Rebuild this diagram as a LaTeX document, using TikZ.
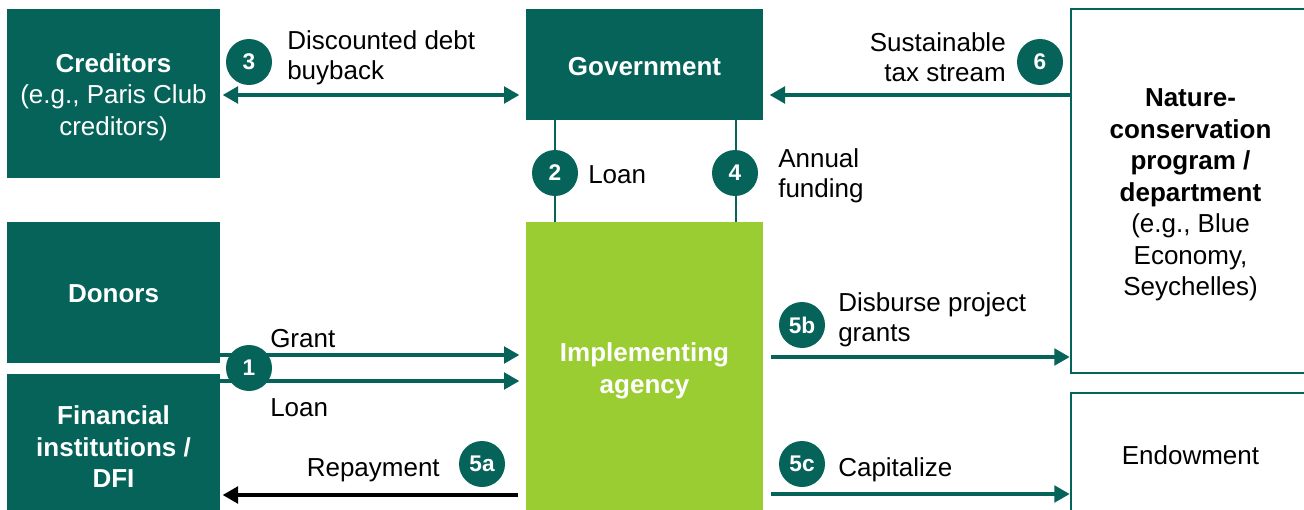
\documentclass[tikz,border=0pt]{standalone}
\usepackage{fontspec}
\setmainfont{Liberation Sans}
\usetikzlibrary{arrows.meta}
\definecolor{teal}{HTML}{05635A}
\definecolor{lime}{HTML}{9ACD32}
\tikzset{
  box/.style={rectangle,fill=teal,inner sep=0pt,outer sep=0pt,text=white,align=center,font=\fontsize{19.5}{23.6}\selectfont},
  obox/.style={rectangle,draw=teal,line width=1.2pt,fill=white,inner sep=0pt,outer sep=0pt,text=black,align=center,font=\fontsize{19.5}{23.6}\selectfont},
  badge/.style={circle,fill=teal,text=white,minimum size=34.5pt,inner sep=0pt,font=\fontsize{17}{18}\selectfont\bfseries},
  lbl/.style={inner sep=0pt,align=left,font=\fontsize{19.5}{22.8}\selectfont},
  arr/.style={draw=teal,line width=2.4pt,-{Triangle[length=11.5pt,width=12.5pt]}},
  barr/.style={draw=black,line width=2.4pt,-{Triangle[length=11.5pt,width=12.5pt]}},
  darr/.style={draw=teal,line width=2.4pt,{Triangle[length=11.5pt,width=12.5pt]}-{Triangle[length=11.5pt,width=12.5pt]}},
  vline/.style={draw=teal,line width=2pt}
}
\begin{document}
\begin{tikzpicture}[x=0.75pt,y=-0.75pt]
\useasboundingbox (0,0) rectangle (1304,510);
\clip (0,0) rectangle (1304,510);
% boxes
\node[box,minimum width=159.75pt,minimum height=126.75pt] (cred) at (113.5,93.5) {};
\node[box,align=center] (credt) at (113.5,97) {\textbf{Creditors}\\(e.g., Paris Club\\creditors)};
\node[box,minimum width=177.75pt,minimum height=83.25pt] (gov) at (644.5,64.5) {};
\node[box] (govt) at (644.5,66.5) {\textbf{Government}};
\node[obox,minimum width=179.25pt,minimum height=273pt] (nat) at (1190.5,191) {};
\node[box,text=black,fill=none] (natt) at (1190.5,195) {\textbf{Nature-}\\\textbf{conservation}\\\textbf{program /}\\\textbf{department}\\(e.g., Blue\\Economy,\\Seychelles)};
\node[obox,minimum width=179.25pt,minimum height=91.5pt] (endw) at (1190.5,454) {};
\node[box,text=black,fill=none] (endwt) at (1190.5,455.5) {Endowment};
\node[box,minimum width=159.75pt,minimum height=105.75pt] (don) at (113.5,292.5) {};
\node[box] (dont) at (113.5,294) {\textbf{Donors}};
\node[box,minimum width=159.75pt,minimum height=105.75pt] (fin) at (113.5,444.5) {};
\node[box] (fint) at (113.5,447) {\textbf{Financial}\\\textbf{institutions /}\\\textbf{DFI}};
\node[box,fill=lime,minimum width=177.75pt,minimum height=219.75pt] (agy) at (644.5,368.5) {};
\node[box,fill=none] (agyt) at (644.5,371) {\textbf{Implementing}\\\textbf{agency}};
% vertical lines
\draw[vline] (gov.south -| 555,0) -- (agy.north -| 555,0);
\draw[vline] (gov.south -| 736,0) -- (agy.north -| 736,0);
% arrows
\draw[darr,shorten <=2pt,shorten >=5pt] (cred.east |- 0,95) -- (gov.west |- 0,95);
\draw[arr,shorten >=5pt] (nat.west |- 0,95) -- (gov.east |- 0,95);
\draw[arr,shorten >=5pt] (don.east |- 0,355) -- (agy.west |- 0,355);
\draw[arr,shorten >=5pt] (fin.east |- 0,381) -- (agy.west |- 0,381);
\draw[barr,shorten <=6pt,shorten >=2pt] (agy.west |- 0,495) -- (fin.east |- 0,495);
\draw[arr,shorten <=6pt,shorten >=1pt] (agy.east |- 0,357) -- (nat.west |- 0,357);
\draw[arr,shorten <=6pt,shorten >=1pt] (agy.east |- 0,494) -- (endw.west |- 0,494);
% badges
\node[badge] (b3) at (249,62) {3};
\node[badge] (b6) at (1040,62) {6};
\node[badge] (b2) at (555,173) {2};
\node[badge] (b4) at (735,173) {4};
\node[badge] (b1) at (249,368) {1};
\node[badge] (b5a) at (482,464) {5a};
\node[badge] (b5b) at (802,325) {5b};
\node[badge] (b5c) at (802,464) {5c};
% labels
\node[lbl,anchor=west] (l3) at (287,57.5) {Discounted debt\\buyback};
\node[lbl,anchor=east,align=right] (l6) at (1006,57.5) {Sustainable\\tax stream};
\node[lbl,anchor=west] (l2) at (588,174.5) {Loan};
\node[lbl,anchor=west] (l4) at (778,175.5) {Annual\\funding};
\node[lbl,anchor=west] (lg) at (270,339) {Grant};
\node[lbl,anchor=west] (ll) at (270,408) {Loan};
\node[lbl,anchor=east] (lr) at (440,470) {Repayment};
\node[lbl,anchor=west] (l5b) at (838,319.5) {Disburse project\\grants};
\node[lbl,anchor=west] (l5c) at (838,469.5) {Capitalize};
\end{tikzpicture}
\end{document}
